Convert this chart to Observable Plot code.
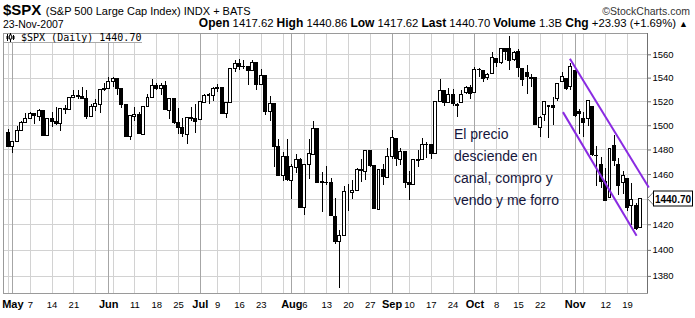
<!DOCTYPE html>
<html>
<head>
<meta charset="utf-8">
<script src="https://cdn.jsdelivr.net/npm/d3@7"></script>
<script src="https://cdn.jsdelivr.net/npm/@observablehq/plot@0.6"></script>
<style>
  body { margin: 0; background: #fff; }
  #wrap { position: relative; width: 695px; height: 318px; overflow: hidden; font-family: "Liberation Sans", Arial, sans-serif; color: #000; background: #fff; }
  .abs { position: absolute; white-space: nowrap; }
  #chart { position: absolute; left: 0; top: 32px; }
  #quote b { font-weight: bold; font-size: 12px; }
</style>
</head>
<body>
<div id="wrap">
  <div class="abs" style="left:3px; top:1px; line-height:17px;"><span style="font-weight:bold; font-size:15px;">$SPX</span> <span style="font-size:11px;">(S&amp;P 500 Large Cap Index) INDX + BATS</span></div>
  <div class="abs" style="right:5px; top:5px; line-height:12px; font-size:10.5px; color:#333;">©StockCharts.com</div>
  <div class="abs" style="left:3px; top:18px; line-height:12px; font-size:10.5px;">23-Nov-2007</div>
  <div class="abs" id="quote" style="right:7px; top:17px; line-height:13px; font-size:11.3px;"></div>
  <div id="chart"></div>
  <div class="abs" id="legend" style="left:4px; top:34px; width:138px; height:8px; background:#fff; border-bottom:1px solid #aaa;"></div>
  <div class="abs" style="left:6px; top:32px; line-height:11px; font-family:'DejaVu Sans Mono', monospace; font-size:10px;"><svg width="9" height="9" style="vertical-align:-1px"><path d="M1.5,1V8M4.5,0V9M7.5,2V7" stroke="#000"/><rect x="0.5" y="3" width="2" height="3" fill="#000"/><rect x="3.5" y="2" width="2" height="4" fill="#fff" stroke="#000" stroke-width="0.8"/><rect x="6.5" y="3" width="2" height="3" fill="#000"/></svg> $SPX (Daily) 1440.70</div>
</div>
<script>
// ---- data (daily OHLC, 30-Apr-2007 .. 23-Nov-2007) ----
const dates = ["2007-04-30","2007-05-01","2007-05-02","2007-05-03","2007-05-04","2007-05-07","2007-05-08","2007-05-09","2007-05-10","2007-05-11",
"2007-05-14","2007-05-15","2007-05-16","2007-05-17","2007-05-18","2007-05-21","2007-05-22","2007-05-23","2007-05-24","2007-05-25",
"2007-05-29","2007-05-30","2007-05-31","2007-06-01","2007-06-04","2007-06-05","2007-06-06","2007-06-07","2007-06-08","2007-06-11",
"2007-06-12","2007-06-13","2007-06-14","2007-06-15","2007-06-18","2007-06-19","2007-06-20","2007-06-21","2007-06-22","2007-06-25",
"2007-06-26","2007-06-27","2007-06-28","2007-06-29","2007-07-02","2007-07-03","2007-07-05","2007-07-06","2007-07-09","2007-07-10",
"2007-07-11","2007-07-12","2007-07-13","2007-07-16","2007-07-17","2007-07-18","2007-07-19","2007-07-20","2007-07-23","2007-07-24",
"2007-07-25","2007-07-26","2007-07-27","2007-07-30","2007-07-31","2007-08-01","2007-08-02","2007-08-03","2007-08-06","2007-08-07",
"2007-08-08","2007-08-09","2007-08-10","2007-08-13","2007-08-14","2007-08-15","2007-08-16","2007-08-17","2007-08-20","2007-08-21",
"2007-08-22","2007-08-23","2007-08-24","2007-08-27","2007-08-28","2007-08-29","2007-08-30","2007-08-31","2007-09-04","2007-09-05",
"2007-09-06","2007-09-07","2007-09-10","2007-09-11","2007-09-12","2007-09-13","2007-09-14","2007-09-17","2007-09-18","2007-09-19",
"2007-09-20","2007-09-21","2007-09-24","2007-09-25","2007-09-26","2007-09-27","2007-09-28","2007-10-01","2007-10-02","2007-10-03",
"2007-10-04","2007-10-05","2007-10-08","2007-10-09","2007-10-10","2007-10-11","2007-10-12","2007-10-15","2007-10-16","2007-10-17",
"2007-10-18","2007-10-19","2007-10-22","2007-10-23","2007-10-24","2007-10-25","2007-10-26","2007-10-29","2007-10-30","2007-10-31",
"2007-11-01","2007-11-02","2007-11-05","2007-11-06","2007-11-07","2007-11-08","2007-11-09","2007-11-12","2007-11-13","2007-11-14",
"2007-11-15","2007-11-16","2007-11-19","2007-11-20","2007-11-21","2007-11-23"];

const open = [1494.07,1482.37,1486.13,1495.56,1502.35,1505.57,1509.36,1507.32,1512.33,1491.47,
1505.76,1503.11,1501.19,1514.01,1512.74,1522.75,1525.10,1524.09,1522.10,1507.50,
1515.55,1517.60,1530.19,1530.62,1536.28,1539.12,1530.57,1517.36,1490.71,1507.64,
1509.12,1492.65,1515.58,1522.97,1532.90,1531.02,1533.68,1512.50,1522.19,1502.56,
1497.68,1492.34,1506.32,1505.70,1504.66,1519.12,1524.86,1524.96,1530.43,1531.85,
1509.93,1518.74,1547.68,1552.50,1549.52,1549.20,1546.13,1553.19,1534.06,1541.57,
1511.03,1518.09,1482.44,1458.93,1473.90,1455.18,1465.46,1472.18,1433.04,1467.62,
1476.22,1497.21,1453.09,1453.42,1452.87,1426.15,1406.64,1411.26,1445.55,1445.55,
1447.03,1464.05,1462.34,1479.36,1466.72,1432.01,1463.67,1457.61,1473.96,1488.76,
1472.03,1478.55,1453.50,1451.69,1471.10,1471.47,1483.95,1484.24,1476.63,1519.75,
1528.69,1518.75,1525.75,1516.34,1518.62,1527.32,1531.24,1527.29,1546.96,1545.80,
1539.91,1543.84,1556.51,1553.18,1564.98,1564.72,1555.41,1562.25,1547.81,1544.44,
1539.29,1540.00,1497.79,1509.30,1516.61,1516.15,1522.17,1536.92,1539.42,1532.15,
1545.79,1511.07,1505.61,1505.33,1515.46,1475.27,1467.59,1453.66,1441.35,1483.40,
1468.04,1453.09,1456.70,1434.51,1434.71,1417.62];

const high = [1497.16,1487.27,1499.10,1503.34,1510.34,1511.00,1509.36,1513.80,1512.33,1506.24,
1510.90,1514.83,1514.15,1517.14,1522.75,1529.87,1529.24,1532.43,1529.31,1517.41,
1521.80,1530.23,1535.56,1540.56,1540.53,1539.12,1530.57,1517.36,1507.76,1515.53,
1511.33,1515.70,1526.45,1538.71,1535.44,1535.85,1537.32,1522.90,1522.19,1514.29,
1506.12,1506.80,1514.84,1517.53,1519.45,1526.01,1526.57,1532.40,1534.26,1531.85,
1519.34,1547.92,1555.10,1555.90,1555.32,1549.20,1555.20,1553.19,1547.23,1541.57,
1524.31,1518.09,1488.53,1477.88,1488.30,1468.38,1476.43,1473.23,1467.67,1488.30,
1503.89,1497.21,1462.02,1466.29,1456.74,1440.78,1415.12,1450.33,1451.75,1455.32,
1464.86,1472.06,1479.40,1479.36,1466.72,1463.76,1468.43,1481.47,1496.40,1488.76,
1481.49,1478.55,1462.25,1472.48,1479.50,1489.58,1485.99,1484.24,1519.89,1538.74,
1529.14,1530.89,1530.18,1518.27,1529.39,1532.46,1533.74,1549.02,1548.01,1545.84,
1544.02,1561.91,1556.51,1565.26,1565.42,1576.09,1563.03,1564.74,1547.81,1550.66,
1542.79,1540.00,1508.06,1520.01,1517.23,1523.24,1535.53,1544.67,1539.42,1552.76,
1545.79,1513.15,1510.84,1520.77,1515.46,1482.50,1474.09,1464.94,1481.37,1492.14,
1472.67,1462.18,1456.70,1452.64,1436.40,1440.86];

const low = [1482.29,1476.70,1486.13,1495.56,1501.80,1505.54,1500.66,1503.77,1491.42,1491.47,
1498.34,1500.43,1495.52,1509.29,1512.74,1522.71,1522.05,1521.90,1505.18,1507.50,
1512.02,1510.06,1528.26,1530.62,1532.18,1525.62,1514.13,1490.37,1487.41,1503.35,
1492.97,1492.65,1515.58,1522.97,1529.31,1525.67,1512.36,1504.75,1500.74,1492.68,
1490.54,1484.18,1503.41,1493.61,1504.66,1519.12,1517.72,1520.47,1527.45,1510.01,
1506.10,1518.74,1544.85,1546.69,1547.74,1533.67,1546.13,1529.20,1534.06,1508.62,
1503.73,1465.30,1458.95,1454.32,1454.25,1439.59,1460.58,1432.80,1427.39,1455.80,
1476.22,1453.09,1429.74,1451.54,1426.20,1404.36,1370.60,1411.26,1430.54,1439.76,
1447.03,1453.88,1455.04,1465.98,1432.27,1432.01,1451.25,1457.61,1472.15,1466.34,
1467.41,1449.07,1439.29,1451.69,1465.75,1471.47,1473.18,1471.82,1476.63,1519.75,
1516.42,1518.75,1516.15,1507.13,1518.62,1525.81,1521.99,1527.25,1540.37,1536.34,
1537.63,1543.84,1549.00,1551.82,1555.46,1546.72,1554.09,1540.81,1532.74,1526.01,
1531.76,1500.26,1490.40,1503.61,1489.56,1500.46,1520.18,1536.92,1529.55,1529.40,
1506.66,1492.53,1489.95,1499.07,1475.04,1450.31,1448.51,1438.53,1441.35,1466.47,
1443.49,1443.99,1430.42,1419.28,1415.64,1417.62];

const close = [1482.37,1486.30,1495.92,1502.39,1505.62,1509.48,1507.72,1512.58,1491.47,1505.85,
1503.15,1501.19,1514.14,1512.75,1522.75,1525.10,1524.12,1522.28,1507.51,1515.73,
1518.11,1530.23,1530.62,1536.34,1539.18,1530.95,1517.38,1490.72,1507.67,1509.12,
1493.00,1515.67,1522.97,1532.91,1531.05,1533.70,1512.84,1522.19,1502.56,1497.74,
1492.89,1506.34,1505.71,1503.35,1519.43,1524.87,1525.40,1530.44,1531.85,1510.12,
1518.76,1547.70,1552.50,1549.52,1549.37,1546.17,1553.08,1534.10,1541.57,1511.04,
1518.09,1482.66,1458.95,1473.91,1455.27,1465.81,1472.20,1433.06,1467.67,1476.71,
1497.49,1453.09,1453.64,1452.92,1426.54,1406.70,1411.27,1445.94,1445.55,1447.12,
1464.07,1462.50,1479.37,1466.79,1432.36,1463.76,1457.64,1473.99,1489.42,1472.29,
1478.55,1453.55,1451.70,1471.49,1471.56,1483.95,1484.25,1476.65,1519.78,1529.03,
1518.75,1525.75,1517.73,1517.21,1525.42,1531.38,1526.75,1547.04,1546.63,1539.59,
1542.84,1557.59,1552.58,1565.15,1562.47,1554.41,1561.80,1548.71,1538.53,1541.24,
1540.08,1500.63,1506.33,1519.59,1515.88,1514.40,1535.28,1540.98,1531.02,1549.38,
1508.44,1509.65,1502.17,1520.27,1475.62,1474.77,1453.70,1439.18,1481.05,1470.58,
1451.15,1458.74,1433.27,1439.70,1416.77,1440.70];

// axis positions (trading-day index) and labels
const weekStarts = [0,5,10,15,20,24,29,34,39,44,48,53,58,63,68,73,78,83,88,92,97,102,107,112,117,122,127,132,137,142];
const monthStarts = [1,23,44,65,88,107,130];
const monthNames = ["May","Jun","Jul","Aug","Sep","Oct","Nov"];
const weekLabelPos = [5,10,15,29,34,39,48,53,58,68,73,78,83,92,97,102,112,117,122,137,142];
const weekLabels = ["7","14","21","11","18","25","9","16","23","6","13","20","27","10","17","24","8","15","22","12","19"];
const priceTicks = [1380,1400,1420,1440,1460,1480,1500,1520,1540,1560];

// quote header
const quoteLabels = ["Open","High","Low","Last","Volume","Chg"];
const quoteValues = ["1417.62","1440.86","1417.62","1440.70","1.3B","+23.93 (+1.69%)"];

// annotation and hand-drawn channel (index, price)
const noteText = "El precio\ndesciende en\ncanal, compro y\nvendo y me forro";
const noteAt = [{i: 102.2, p: 1501.5}];
const channel = [
  {i1: 128.8, p1: 1556.6, i2: 146.9, p2: 1449.5},
  {i1: 127.2, p1: 1511.3, i2: 144.1, p2: 1411.3}
];

document.getElementById("quote").innerHTML =
  quoteLabels.map((l, k) => `<b>${l}</b> ${quoteValues[k]}`).join(" ") + " <span style='font-size:9px'>▲</span>";

const rows = dates.map((d, i) => ({i, d, o: open[i], h: high[i], l: low[i], c: close[i]}));
const up = rows.filter(r => r.c >= r.o);
const down = rows.filter(r => r.c < r.o);
const monthMap = new Map(monthStarts.map((m, k) => [m, monthNames[k]]));
const weekMap = new Map(weekLabelPos.map((w, k) => [w, weekLabels[k]]));
const lastClose = close[close.length - 1];
// tick labels hidden behind the last-price box
const priceLabels = priceTicks.filter(t => Math.abs(Math.log(t / lastClose)) > 0.006);

const xDomain = [-1.15, 146.6];

const chart = Plot.plot({
  width: 695,
  height: 286,
  marginTop: 1,
  marginBottom: 25,
  marginLeft: 3,
  marginRight: 48,
  style: {fontFamily: "Liberation Sans, Arial, sans-serif", background: "transparent", overflow: "visible"},
  x: {type: "linear", domain: xDomain, label: null},
  y: {type: "log", domain: [1367, 1578.5], label: null},
  marks: [
    Plot.gridY(priceTicks, {stroke: "#d2d2d2", strokeOpacity: 1, shapeRendering: "crispEdges"}),
    Plot.gridX(weekStarts, {stroke: "#d2d2d2", strokeOpacity: 1, shapeRendering: "crispEdges"}),
    Plot.gridX(monthStarts, {stroke: "#a6a6a6", strokeOpacity: 1, shapeRendering: "crispEdges"}),
    Plot.frame({stroke: "#9a9a9a", shapeRendering: "crispEdges"}),
    Plot.ruleX([xDomain[1]], {stroke: "#707070", shapeRendering: "crispEdges"}),
    Plot.ruleX(rows, {x: "i", y1: "l", y2: "h", stroke: "#000", strokeWidth: 1, shapeRendering: "crispEdges"}),
    Plot.rect(down, {x1: d => d.i - 0.34, x2: d => d.i + 0.34, y1: "o", y2: "c", fill: "#000", stroke: "#000", shapeRendering: "crispEdges"}),
    Plot.rect(up, {x1: d => d.i - 0.34, x2: d => d.i + 0.34, y1: "o", y2: "c", fill: "#fff", stroke: "#000", shapeRendering: "crispEdges"}),
    Plot.link(channel, {x1: "i1", y1: "p1", x2: "i2", y2: "p2", stroke: "#8a2be2", strokeWidth: 2}),
    Plot.text(noteAt, {x: "i", y: "p", text: () => noteText, textAnchor: "start", lineAnchor: "top", lineHeight: 1.57, fontSize: 14, fill: "#16163c"}),
    Plot.axisY(priceLabels, {anchor: "right", tickSize: 3, tickPadding: 2, fontSize: 9.5, tickFormat: d => String(d), label: null, stroke: "#707070"}),
    Plot.axisX(weekLabelPos, {anchor: "bottom", tickSize: 0, tickPadding: 8, fontSize: 9.5, tickFormat: d => weekMap.get(d), label: null}),
    Plot.axisX(monthStarts, {anchor: "bottom", tickSize: 0, tickPadding: 7, fontSize: 11, fontWeight: "bold", tickFormat: d => monthMap.get(d), label: null}),
    (index, scales, values, dims) => {
      const y = Math.round(scales.y(lastClose));
      const x0 = dims.width - dims.marginRight;
      const g = d3.create("svg:g");
      g.append("path")
        .attr("d", `M${x0 + 0.5},${y + 0.5} L${x0 + 7},${y - 6.5} L${x0 + 7},${y + 7.5} Z`)
        .attr("fill", "#fff").attr("stroke", "#777");
      g.append("rect")
        .attr("x", x0 + 6.5).attr("y", y - 7)
        .attr("width", 39).attr("height", 15)
        .attr("fill", "#fff").attr("stroke", "#000");
      g.append("text")
        .attr("x", x0 + 26).attr("y", y + 4.5)
        .attr("text-anchor", "middle")
        .attr("font-weight", "bold").attr("font-size", 10)
        .attr("font-family", "Liberation Sans, Arial, sans-serif")
        .text(lastClose.toFixed(2));
      return g.node();
    }
  ]
});
document.getElementById("chart").appendChild(chart);
</script>
</body>
</html>
